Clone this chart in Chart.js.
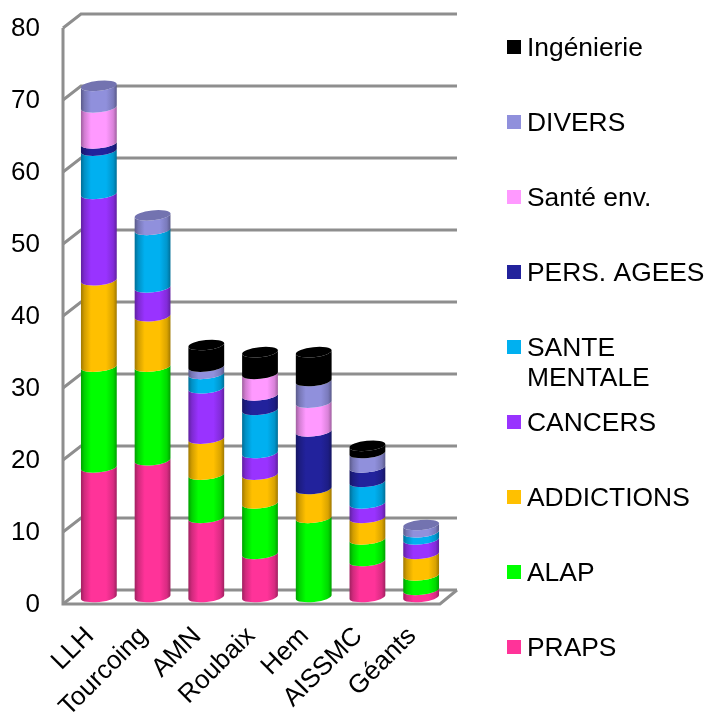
<!DOCTYPE html>
<html>
<head>
<meta charset="utf-8">
<title>Stacked cylinders</title>
<script src="https://cdn.jsdelivr.net/npm/chart.js@4/dist/chart.umd.js"></script>
<style>
  html, body { margin: 0; padding: 0; background: #fff; }
  canvas { display: block; }
</style>
</head>
<body>
<canvas id="myChart" width="708" height="714"></canvas>
<script>
// categories and values
const categories = ['LLH', 'Tourcoing', 'AMN', 'Roubaix', 'Hem', 'AISSMC', 'Géants'];

const praps      = [18, 19, 11, 6, 0, 5, 1];
const alap       = [14, 13, 6, 7, 11, 3, 2];
const addictions = [12, 7, 5, 4, 4, 3, 3];
const cancers    = [12, 4, 7, 3, 0, 2, 2];
const santeMent  = [6, 8, 2, 6, 0, 3, 1];
const persAgees  = [1, 0, 0, 2, 8, 2, 0];
const santeEnv   = [5, 0, 0, 3, 4, 0, 0];
const divers     = [3, 2, 1, 0, 3, 2, 1];
const ingenierie = [0, 0, 3, 3, 4, 1, 0];

const seriesNames = ['PRAPS', 'ALAP', 'ADDICTIONS', 'CANCERS', ['SANTE', 'MENTALE'], 'PERS. AGEES', 'Santé env.', 'DIVERS', 'Ingénierie'];
const seriesValues = [praps, alap, addictions, cancers, santeMent, persAgees, santeEnv, divers, ingenierie];
const seriesColors = ['#ff3399', '#00ff00', '#ffc000', '#9933ff', '#00b0f0', '#22229c', '#ff99ff', '#9090dc', '#000000'];

const FONT = '"Liberation Sans", Arial, sans-serif';

// multiply a hex colour by k
function shade(hex, k) {
  const n = parseInt(hex.slice(1), 16);
  const r = Math.round((n >> 16 & 255) * k);
  const g = Math.round((n >> 8 & 255) * k);
  const b = Math.round((n & 255) * k);
  return 'rgb(' + r + ',' + g + ',' + b + ')';
}

// the gray 3D wall: every gridline comes from the y scale
function drawWalls(chart) {
  const ctx = chart.ctx;
  const y = chart.scales.y;
  const left = 63, back = 81, right = 457, depth = 7;
  ctx.save();
  ctx.strokeStyle = '#8e8e8e';
  ctx.lineWidth = 3;
  y.ticks.forEach(function (t) {
    const py = y.getPixelForValue(t.value);
    ctx.beginPath();
    ctx.moveTo(left, py + depth);
    ctx.lineTo(back, py - depth);
    ctx.lineTo(right, py - depth);
    ctx.stroke();
  });
  const y0 = y.getPixelForValue(0), yTop = y.getPixelForValue(80);
  ctx.beginPath();
  ctx.moveTo(left, yTop + depth);
  ctx.lineTo(left, y0 + depth);
  ctx.lineTo(right - 17, y0 + depth);
  ctx.lineTo(right, y0 - depth);
  ctx.stroke();
  ctx.restore();
}

// each stacked segment is painted as a piece of cylinder, using the bar element's own geometry
function drawCylinders(chart) {
  const ctx = chart.ctx;
  const tilt = -6 * Math.PI / 180, ry = 5;
  categories.forEach(function (c, i) {
    let last = null;
    seriesValues.forEach(function (vals, d) {
      if (!vals[i]) return;
      const bar = chart.getDatasetMeta(d).data[i];
      const rx = bar.width / 2;
      const g = ctx.createLinearGradient(bar.x - rx, 0, bar.x + rx, 0);
      const col = seriesColors[d];
      g.addColorStop(0, shade(col, 0.62));
      g.addColorStop(0.1, shade(col, 0.82));
      g.addColorStop(0.28, col);
      g.addColorStop(0.7, col);
      g.addColorStop(0.9, shade(col, 0.85));
      g.addColorStop(1, shade(col, 0.62));
      ctx.fillStyle = g;
      ctx.beginPath();
      ctx.ellipse(bar.x, bar.base, rx, ry, tilt, 0, Math.PI);
      ctx.ellipse(bar.x, bar.y, rx, ry, tilt, Math.PI, 0, true);
      ctx.closePath();
      ctx.fill();
      last = { bar: bar, col: col, rx: rx };
    });
    if (last) {
      ctx.fillStyle = shade(last.col, 0.8);
      ctx.beginPath();
      ctx.ellipse(last.bar.x, last.bar.y, last.rx, ry, tilt, 0, Math.PI * 2);
      ctx.fill();
    }
  });
}

const cylinderPlugin = {
  id: 'cylinders',
  beforeDatasetsDraw(chart) {
    drawWalls(chart);
    drawCylinders(chart);
    return false; // flat bars are replaced by the cylinders
  }
};

// legend has even rows even where a label wraps, so it is drawn here
const legendPlugin = {
  id: 'sideLegend',
  afterDraw(chart) {
    const ctx = chart.ctx;
    ctx.save();
    ctx.font = '26.4px ' + FONT;
    ctx.textBaseline = 'middle';
    ctx.textAlign = 'left';
    for (let d = seriesNames.length - 1; d >= 0; d--) {
      const row = seriesNames.length - 1 - d;
      const cy = 47 + row * 75;
      ctx.fillStyle = seriesColors[d];
      ctx.fillRect(507, cy - 7, 14, 14);
      ctx.fillStyle = '#000';
      [].concat(seriesNames[d]).forEach(function (line, k) {
        ctx.fillText(line, 527, cy + 2 + k * 30);
      });
    }
    ctx.restore();
  }
};

new Chart(document.getElementById('myChart').getContext('2d'), {
  type: 'bar',
  data: {
    labels: categories,
    datasets: seriesValues.map(function (vals, d) {
      return {
        label: [].concat(seriesNames[d]).join(' '),
        data: vals,
        backgroundColor: seriesColors[d],
        categoryPercentage: 1,
        barPercentage: 0.67
      };
    })
  },
  options: {
    responsive: false,
    animation: false,
    layout: { padding: { top: 21, right: 260, left: 0, bottom: 0 } },
    plugins: { legend: { display: false }, tooltip: { enabled: false } },
    scales: {
      x: {
        stacked: true,
        grid: { display: false },
        border: { display: false },
        ticks: {
          color: '#000',
          font: { family: FONT, size: 26 },
          minRotation: 45,
          maxRotation: 45,
          padding: 16,
          labelOffset: -9,
          autoSkip: false
        },
        afterFit(s) { s.height = 117; s.paddingLeft = 0; s.paddingRight = 0; }
      },
      y: {
        stacked: true,
        min: 0,
        max: 80,
        grid: { display: false },
        border: { display: false },
        ticks: {
          color: '#000',
          font: { family: FONT, size: 26 },
          stepSize: 10,
          padding: 24,
          labelOffset: 8
        },
        afterFit(s) { s.width = 72; s.paddingTop = 0; s.paddingBottom = 0; }
      }
    }
  },
  plugins: [cylinderPlugin, legendPlugin]
});
</script>
</body>
</html>
